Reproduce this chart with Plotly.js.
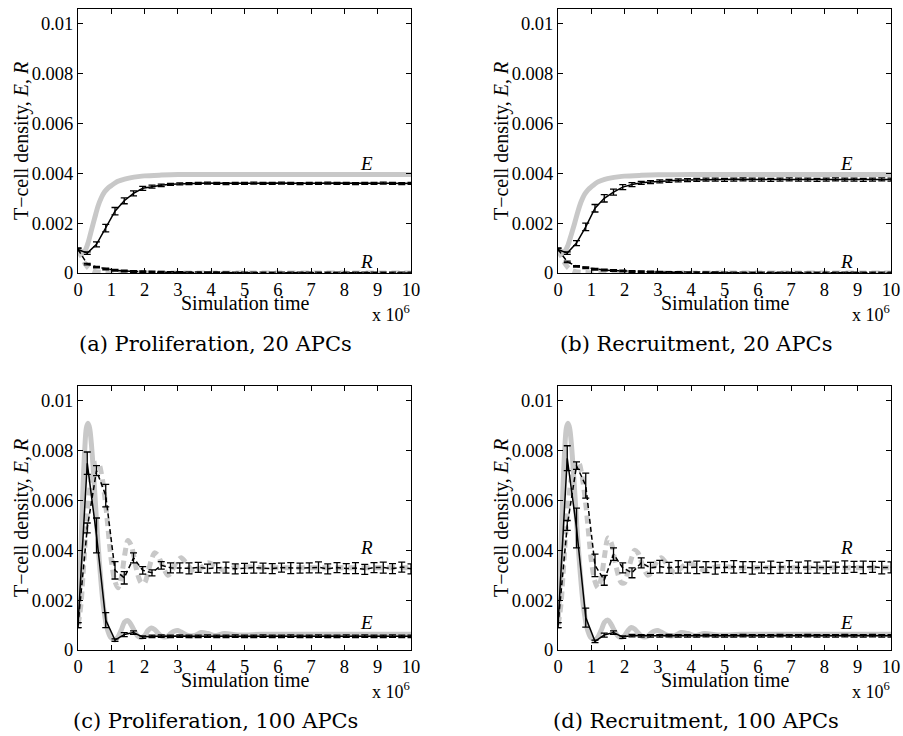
<!DOCTYPE html>
<html>
<head>
<meta charset="utf-8">
<script src="https://cdn.plot.ly/plotly-3.0.1.min.js"></script>
<style>html,body{margin:0;padding:0;background:#fff;}#chart{width:903px;height:736px;}</style>
</head>
<body>
<div id="chart"></div>
<script>
// ---------- tick labels ----------
const xTickVals = [0,1,2,3,4,5,6,7,8,9,10];
const xTickText = ["0","1","2","3","4","5","6","7","8","9","10"];
const yTickVals = [0,0.002,0.004,0.006,0.008,0.01];
const yTickText = ["0","0.002","0.004","0.006","0.008","0.01"];

// ---------- simulation sample times (x 10^6) ----------
const simTime = [0,0.278,0.556,0.833,1.111,1.389,1.667,1.944,2.222,2.5,
  2.778,3.056,3.333,3.611,3.889,4.167,4.444,4.722,5,5.278,
  5.556,5.833,6.111,6.389,6.667,6.944,7.222,7.5,7.778,8.056,
  8.333,8.611,8.889,9.167,9.444,9.722,10];

// ---------- (a) Proliferation, 20 APCs ----------
const simEA = [0.00095,0.00080,0.00115,0.00180,0.00248,0.00290,0.00320,0.00340,0.00347,0.00352,
  0.00356,0.00358,0.00359,0.00360,0.00361,0.00360,0.00359,0.00360,0.00360,0.00361,
  0.00360,0.00360,0.00361,0.00360,0.00359,0.00360,0.00360,0.00361,0.00360,0.00360,
  0.00359,0.00360,0.00360,0.00361,0.00360,0.00359,0.00360];
const errEA = [0.00005,0.00005,0.00010,0.00015,0.00015,0.00012,0.00010,0.00008,0.00006,0.00005,
  0.00004,0.00004,0.00004,0.00004,0.00004,0.00004,0.00004,0.00004,0.00004,0.00004,
  0.00004,0.00004,0.00004,0.00004,0.00004,0.00004,0.00004,0.00004,0.00004,0.00004,
  0.00004,0.00004,0.00004,0.00004,0.00004,0.00004,0.00004];
const simRA = [0.00095,0.00036,0.00024,0.00016,0.00011,0.00008,0.00006,0.00005,0.00004,0.00003,
  0.000025,0.00002,0.000015,0.000012,0.00001,0.00001,0.00001,0.000008,0.000008,0.000008,
  0.000006,0.000006,0.000006,0.000006,0.000006,0.000006,0.000006,0.000006,0.000006,0.000006,
  0.000005,0.000005,0.000005,0.000005,0.000005,0.000005,0.000005];
const errRA = [0.00005,0.00003,0.00003,0.00003,0.00003,0.00003,0.00003,0.00003,0.00003,0.00003,
  0.00003,0.00003,0.00003,0.00003,0.00003,0.00003,0.00003,0.00003,0.00003,0.00003,
  0.00003,0.00003,0.00003,0.00003,0.00003,0.00003,0.00003,0.00003,0.00003,0.00003,
  0.00003,0.00003,0.00003,0.00003,0.00003,0.00003,0.00003];

// ---------- (b) Recruitment, 20 APCs ----------
const simEB = [0.00095,0.00080,0.00120,0.00185,0.00260,0.00300,0.00325,0.00345,0.00355,0.00362,
  0.00365,0.00368,0.00370,0.00372,0.00373,0.00374,0.00375,0.00375,0.00374,0.00375,
  0.00376,0.00375,0.00375,0.00374,0.00375,0.00376,0.00375,0.00375,0.00374,0.00375,
  0.00376,0.00375,0.00375,0.00374,0.00375,0.00376,0.00375];
const errEB = [0.00005,0.00005,0.00010,0.00015,0.00015,0.00015,0.00012,0.00010,0.00008,0.00006,
  0.00006,0.00006,0.00006,0.00006,0.00006,0.00006,0.00006,0.00006,0.00006,0.00006,
  0.00006,0.00006,0.00006,0.00006,0.00006,0.00006,0.00006,0.00006,0.00006,0.00006,
  0.00006,0.00006,0.00006,0.00006,0.00006,0.00006,0.00006];
const simRB = [0.00095,0.00045,0.00027,0.00021,0.00015,0.00012,0.00010,0.00008,0.00006,0.00005,
  0.00004,0.00003,0.000025,0.00002,0.000015,0.000012,0.00001,0.00001,0.000008,0.000008,
  0.000006,0.000006,0.000006,0.000006,0.000006,0.000006,0.000006,0.000006,0.000006,0.000006,
  0.000005,0.000005,0.000005,0.000005,0.000005,0.000005,0.000005];
const errRB = errRA;

// ---------- (c) Proliferation, 100 APCs ----------
const simEC = [0.00100,0.00750,0.00460,0.00120,0.00040,0.00062,0.00070,0.00052,0.00055,0.00056,
  0.00055,0.00056,0.00055,0.00055,0.00056,0.00055,0.00055,0.00056,0.00055,0.00055,
  0.00056,0.00055,0.00055,0.00056,0.00055,0.00055,0.00056,0.00055,0.00055,0.00056,
  0.00055,0.00056,0.00055,0.00055,0.00056,0.00055,0.00055];
const errEC = [0.00010,0.00045,0.00070,0.00030,0.00005,0.00008,0.00007,0.00005,0.00005,0.00005,
  0.00005,0.00005,0.00005,0.00005,0.00005,0.00005,0.00005,0.00005,0.00005,0.00005,
  0.00005,0.00005,0.00005,0.00005,0.00005,0.00005,0.00005,0.00005,0.00005,0.00005,
  0.00005,0.00005,0.00005,0.00005,0.00005,0.00005,0.00005];
const simRC = [0.00100,0.00490,0.00720,0.00620,0.00320,0.00290,0.00370,0.00320,0.00310,0.00340,
  0.00330,0.00330,0.00328,0.00332,0.00327,0.00330,0.00331,0.00326,0.00328,0.00331,
  0.00329,0.00327,0.00331,0.00329,0.00329,0.00330,0.00332,0.00326,0.00331,0.00327,
  0.00329,0.00324,0.00331,0.00331,0.00327,0.00333,0.00326];
const errRC = [0.00010,0.00020,0.00020,0.00045,0.00035,0.00025,0.00020,0.00015,0.00012,0.00015,
  0.00020,0.00020,0.00022,0.00020,0.00018,0.00020,0.00022,0.00020,0.00020,0.00022,
  0.00020,0.00020,0.00018,0.00022,0.00020,0.00020,0.00022,0.00020,0.00020,0.00020,
  0.00022,0.00020,0.00020,0.00022,0.00020,0.00020,0.00020];

// ---------- (d) Recruitment, 100 APCs ----------
const simED = [0.00100,0.00770,0.00490,0.00130,0.00035,0.00060,0.00070,0.00052,0.00058,0.00057,
  0.00057,0.00057,0.00058,0.00057,0.00057,0.00057,0.00058,0.00057,0.00057,0.00057,
  0.00058,0.00057,0.00057,0.00057,0.00058,0.00057,0.00057,0.00058,0.00057,0.00057,
  0.00057,0.00058,0.00057,0.00057,0.00058,0.00057,0.00057];
const errED = [0.00010,0.00050,0.00080,0.00038,0.00005,0.00008,0.00007,0.00005,0.00005,0.00005,
  0.00005,0.00005,0.00005,0.00005,0.00005,0.00005,0.00005,0.00005,0.00005,0.00005,
  0.00005,0.00005,0.00005,0.00005,0.00005,0.00005,0.00005,0.00005,0.00005,0.00005,
  0.00005,0.00005,0.00005,0.00005,0.00005,0.00005,0.00005];
const simRD = [0.00100,0.00500,0.00740,0.00660,0.00340,0.00280,0.00385,0.00330,0.00310,0.00350,
  0.00330,0.00335,0.00330,0.00334,0.00331,0.00332,0.00333,0.00330,0.00333,0.00334,
  0.00333,0.00330,0.00331,0.00332,0.00330,0.00334,0.00331,0.00333,0.00331,0.00332,
  0.00331,0.00333,0.00334,0.00332,0.00334,0.00331,0.00332];
const errRD = [0.00010,0.00020,0.00015,0.00050,0.00045,0.00020,0.00025,0.00020,0.00020,0.00020,
  0.00022,0.00025,0.00022,0.00025,0.00022,0.00025,0.00022,0.00025,0.00022,0.00025,
  0.00022,0.00025,0.00022,0.00025,0.00022,0.00025,0.00022,0.00025,0.00022,0.00025,
  0.00022,0.00025,0.00022,0.00025,0.00022,0.00025,0.00022];

// ---------- model curves (grey) ----------
const modelTimeAB = [0,0.1,0.2,0.3,0.4,0.5,0.6,0.7,0.8,0.9,1.0,1.2,1.4,1.6,1.8,2.0,2.5,3,4,5,6,7,8,9,10];
const modelEA = [0.00092,0.00086,0.00088,0.00120,0.00170,0.00220,0.00268,0.00302,0.00326,0.00341,0.00351,
  0.00368,0.00377,0.00383,0.00387,0.00390,0.00393,0.00395,0.00395,0.00395,0.00395,0.00395,0.00395,0.00395,0.00395];
const modelRA = [0.00092,0.00068,0.00040,0.00022,0.00011,0.00006,0.00004,0.00003,0.00002,0.000015,0.00001,
  0.000005,0.000003,0.000002,0.000001,0,0,0,0,0,0,0,0,0,0];
const modelEB = [0.00092,0.00086,0.00087,0.00112,0.00155,0.00200,0.00248,0.00288,0.00316,0.00334,0.00346,
  0.00366,0.00376,0.00382,0.00386,0.00389,0.00392,0.00394,0.00395,0.00395,0.00395,0.00395,0.00395,0.00395,0.00395];
const modelRB = modelRA;

const modelTimeCD = [0,0.05,0.1,0.15,0.2,0.25,0.3,0.35,0.4,0.45,0.5,0.55,0.6,0.65,0.7,0.75,0.8,0.85,0.9,0.95,
  1.0,1.1,1.2,1.3,1.4,1.5,1.6,1.7,1.8,1.9,2.0,2.1,2.2,2.3,2.4,2.5,2.6,2.7,2.8,2.9,
  3.0,3.1,3.3,3.5,3.7,3.9,4.1,4.4,4.8,5.5,6,7,8,9,10];
const modelEC = [0.00100,0.00250,0.00450,0.00650,0.00800,0.00890,0.00910,0.00890,0.00830,0.00740,
  0.00640,0.00530,0.00430,0.00340,0.00260,0.00190,0.00140,0.00100,0.00075,0.00058,
  0.00048,0.00040,0.00052,0.00080,0.00112,0.00118,0.00100,0.00075,0.00055,0.00050,
  0.00058,0.00078,0.00088,0.00082,0.00068,0.00056,0.00052,0.00056,0.00068,0.00076,
  0.00078,0.00072,0.00058,0.00058,0.00070,0.00066,0.00058,0.00066,0.00060,0.00063,
  0.00063,0.00063,0.00063,0.00063,0.00063];
const modelRC = [0.00100,0.00140,0.00200,0.00300,0.00400,0.00500,0.00580,0.00640,0.00690,0.00720,
  0.00740,0.00750,0.00750,0.00740,0.00710,0.00670,0.00620,0.00560,0.00490,0.00420,
  0.00360,0.00280,0.00250,0.00290,0.00380,0.00440,0.00420,0.00360,0.00300,0.00270,
  0.00270,0.00310,0.00360,0.00390,0.00380,0.00350,0.00320,0.00300,0.00310,0.00340,
  0.00360,0.00370,0.00340,0.00310,0.00330,0.00350,0.00340,0.00320,0.00335,0.00330,
  0.00330,0.00330,0.00330,0.00330,0.00330];
const modelED = [0.00100,0.00250,0.00450,0.00650,0.00800,0.00890,0.00910,0.00890,0.00830,0.00740,
  0.00640,0.00530,0.00430,0.00340,0.00260,0.00190,0.00140,0.00100,0.00075,0.00058,
  0.00048,0.00040,0.00052,0.00080,0.00112,0.00120,0.00102,0.00076,0.00056,0.00050,
  0.00058,0.00078,0.00090,0.00084,0.00070,0.00057,0.00052,0.00056,0.00068,0.00076,
  0.00078,0.00072,0.00058,0.00058,0.00070,0.00066,0.00058,0.00066,0.00060,0.00063,
  0.00063,0.00063,0.00063,0.00063,0.00063];
const modelRD = [0.00100,0.00140,0.00200,0.00300,0.00400,0.00500,0.00580,0.00640,0.00690,0.00725,
  0.00745,0.00755,0.00755,0.00745,0.00715,0.00675,0.00625,0.00565,0.00495,0.00425,
  0.00360,0.00280,0.00250,0.00290,0.00380,0.00450,0.00430,0.00365,0.00305,0.00270,
  0.00270,0.00315,0.00365,0.00400,0.00390,0.00355,0.00320,0.00300,0.00310,0.00340,
  0.00360,0.00370,0.00340,0.00310,0.00330,0.00350,0.00340,0.00320,0.00335,0.00330,
  0.00330,0.00330,0.00330,0.00330,0.00330];

const captions = ["(a) Proliferation, 20 APCs","(b) Recruitment, 20 APCs",
                  "(c) Proliferation, 100 APCs","(d) Recruitment, 100 APCs"];

// ---------- layout helpers ----------
const W = 903, H = 736;
const GREY = 'rgb(200,200,200)';
const SERIF = '"Liberation Serif", "Times New Roman", "DejaVu Serif"';
const CAPFONT = '"DejaVu Serif"';
const panels = [
  {xs:'x',  ys:'y',  xa:'xaxis',  ya:'yaxis',  px:[78,411],  py:[9,273],
   t:modelTimeAB, mE:modelEA, mR:modelRA, sE:simEA, eE:errEA, sR:simRA, eR:errRA,
   labE:0.0044, labR:0.00045},
  {xs:'x2', ys:'y2', xa:'xaxis2', ya:'yaxis2', px:[558,891], py:[9,273],
   t:modelTimeAB, mE:modelEB, mR:modelRB, sE:simEB, eE:errEB, sR:simRB, eR:errRB,
   labE:0.0044, labR:0.00045},
  {xs:'x3', ys:'y3', xa:'xaxis3', ya:'yaxis3', px:[78,411],  py:[386,650],
   t:modelTimeCD, mE:modelEC, mR:modelRC, sE:simEC, eE:errEC, sR:simRC, eR:errRC,
   labE:0.00112, labR:0.0041},
  {xs:'x4', ys:'y4', xa:'xaxis4', ya:'yaxis4', px:[558,891], py:[386,650],
   t:modelTimeCD, mE:modelED, mR:modelRD, sE:simED, eE:errED, sR:simRD, eR:errRD,
   labE:0.00112, labR:0.0041}
];

const data = [];
const layout = {
  width: W, height: H, margin:{l:0,r:0,t:0,b:0},
  paper_bgcolor:'white', plot_bgcolor:'white', showlegend:false,
  font:{family:SERIF, color:'black'},
  annotations: []
};

panels.forEach((p, i) => {
  data.push({x:p.t, y:p.mE, xaxis:p.xs, yaxis:p.ys, mode:'lines',
    line:{color:GREY, width:5, shape:'spline', smoothing:0.8}, hoverinfo:'skip'});
  data.push({x:p.t, y:p.mR, xaxis:p.xs, yaxis:p.ys, mode:'lines',
    line:{color:GREY, width:5, dash:'8px,5px', shape:'spline', smoothing:0.8}, hoverinfo:'skip'});
  data.push({x:simTime, y:p.sE, xaxis:p.xs, yaxis:p.ys, mode:'lines',
    line:{color:'black', width:1.5},
    error_y:{type:'data', array:p.eE, visible:true, color:'black', thickness:1.3, width:3.5}});
  data.push({x:simTime, y:p.sR, xaxis:p.xs, yaxis:p.ys, mode:'lines',
    line:{color:'black', width:1.5, dash:'5px,3px'},
    error_y:{type:'data', array:p.eR, visible:true, color:'black', thickness:1.3, width:3.5}});

  const common = {ticks:'inside', ticklen:5, tickwidth:1, tickcolor:'black',
    showline:true, linecolor:'black', linewidth:1, mirror:'ticks',
    showgrid:false, zeroline:false,
    tickfont:{family:SERIF, size:18.5, color:'black'}};
  layout[p.xa] = Object.assign({}, common, {
    domain:[p.px[0]/W, p.px[1]/W], range:[0,10], anchor:p.ys,
    tickmode:'array', tickvals:xTickVals, ticktext:xTickText});
  layout[p.ya] = Object.assign({}, common, {
    domain:[1-p.py[1]/H, 1-p.py[0]/H], range:[0,0.0106], anchor:p.xs,
    tickmode:'array', tickvals:yTickVals, ticktext:yTickText});

  const cx = (p.px[0]+p.px[1])/2;
  const cy = (p.py[0]+p.py[1])/2;
  const ann = layout.annotations;
  ann.push({xref:p.xs, yref:p.ys, x:8.65, y:p.labE, text:'<i>E</i>', showarrow:false,
    font:{family:SERIF, size:19}});
  ann.push({xref:p.xs, yref:p.ys, x:8.65, y:p.labR, text:'<i>R</i>', showarrow:false,
    font:{family:SERIF, size:19}});
  ann.push({xref:'paper', yref:'paper', x:(p.px[0]-57)/W, y:1-cy/H, textangle:-90,
    text:'T\u2212cell density, <i>E</i>, <i>R</i>', showarrow:false,
    xanchor:'center', yanchor:'middle', font:{family:SERIF, size:20}});
  ann.push({xref:'paper', yref:'paper', x:cx/W, y:1-(p.py[1]+30)/H,
    text:'Simulation time', showarrow:false, xanchor:'center', yanchor:'middle',
    font:{family:SERIF, size:20}});
  ann.push({xref:'paper', yref:'paper', x:(p.px[1]+1)/W, y:1-(p.py[1]+40)/H,
    text:'x 10<sup>6</sup>', showarrow:false, xanchor:'right', yanchor:'middle',
    font:{family:SERIF, size:18}});
  ann.push({xref:'paper', yref:'paper', x:(cx-29)/W, y:1-(p.py[1]+71)/H,
    text:captions[i], showarrow:false, xanchor:'center', yanchor:'middle',
    font:{family:CAPFONT, size:21}});
});

Plotly.newPlot('chart', data, layout, {staticPlot:true, displayModeBar:false});
</script>
</body>
</html>
